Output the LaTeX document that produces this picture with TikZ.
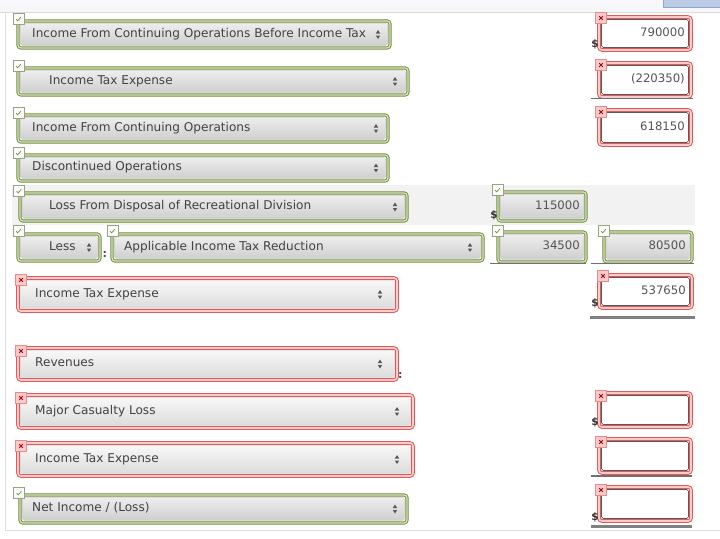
\documentclass[tikz,border=0pt]{standalone}
\usepackage{fontspec}
\setmainfont{DejaVu Sans}
\definecolor{fgreen}{HTML}{6E8B3D}
\definecolor{fgreenl}{HTML}{DCE6C0}
\definecolor{fred}{HTML}{E05A5A}
\definecolor{fredl}{HTML}{F9CACA}
\definecolor{txtc}{HTML}{424242}
\definecolor{numc}{HTML}{555555}
\definecolor{linec}{HTML}{DEDEDE}
\definecolor{ulc}{HTML}{707070}
\definecolor{btnc}{HTML}{BCCBE6}
\definecolor{btnd}{HTML}{8FA6D0}
\tikzset{
 frameg/.style={draw=fgreen, double=fgreenl, line width=0.95pt, double distance=1.3pt, rounded corners=3pt},
 framer/.style={draw=fred, double=fredl, line width=1pt, double distance=1.6pt, rounded corners=3pt},
 fieldg/.style={draw=black!20, line width=0.4pt, top color=black!7, bottom color=black!19, rounded corners=1.5pt},
 fieldr/.style={draw=black!15, line width=0.4pt, top color=black!3, bottom color=black!14, rounded corners=1.5pt},
 fieldw/.style={fill=white, rounded corners=1.5pt},
 seltext/.style={anchor=mid west, inner sep=0pt, text=txtc, font=\fontsize{12.1}{14}\selectfont},
 numtext/.style={anchor=mid east, inner sep=0pt, text=numc, font=\fontsize{11.7}{14}\selectfont},
 dollar/.style={inner sep=0pt, text=black!80, font=\fontsize{10.5}{12}\bfseries\selectfont},
 colon/.style={anchor=mid west, inner sep=0pt, text=black!70, font=\fontsize{11}{13}\bfseries\selectfont},
 arrowc/.style={fill=black!65},
 iconbox/.style={minimum size=11pt, inner sep=0pt, line width=0.6pt},
 icong/.style={iconbox, fill=white!90!fgreenl, draw=black!30!fgreenl},
 iconr/.style={iconbox, fill=fredl, draw=fred!70},
 ulsingle/.style={draw=ulc, line width=1.3pt},
 uldouble/.style={draw=black!50, line width=3pt},
}
% select box: name, x1, y1, x2, y2, text x, arrow x, text, kind
\newcommand\mkSel[9]{%
 \draw[frame#9] (#2,#3) rectangle (#4,#5);
 \draw[field#9] ({#2+2.6},{#3+2.6}) rectangle ({#4-2.6},{#5-2.6});
 \node[seltext] (#1) at (#6,{(#3+#5)/2}) {#8};
 \fill[arrowc] ({#7-2.2},{(#3+#5)/2-1}) -- ({#7+2.2},{(#3+#5)/2-1}) -- (#7,{(#3+#5)/2-4.5}) -- cycle;
 \fill[arrowc] ({#7-2.2},{(#3+#5)/2+1}) -- ({#7+2.2},{(#3+#5)/2+1}) -- (#7,{(#3+#5)/2+4.5}) -- cycle;
}
% amount box: name, x1, y1, x2, y2, text, kind, fill kind
\newcommand\mkAmt[8]{%
 \draw[frame#7] (#2,#3) rectangle (#4,#5);
 \draw[field#8] ({#2+2.6},{#3+2.6}) rectangle ({#4-2.6},{#5-2.6});
 \node[numtext] (#1) at ({#4-6},{(#3+#5)/2}) {#6};
}
% icons: name, centre x, centre y
\newcommand\mkOk[3]{%
 \node[icong] (#1) at (#2,#3) {};
 \draw[fgreen, line width=0.7pt] ([shift={(-2.4,0.2)}]#1.center) -- ([shift={(-0.8,1.8)}]#1.center) -- ([shift={(2.4,-1.8)}]#1.center);
}
\newcommand\mkBad[3]{%
 \node[iconr] (#1) at (#2,#3) {};
 \draw[red!70!black, line width=0.8pt] ([shift={(-1.8,-1.8)}]#1.center) -- ([shift={(1.8,1.8)}]#1.center)
   ([shift={(-1.8,1.8)}]#1.center) -- ([shift={(1.8,-1.8)}]#1.center);
}
\begin{document}
\begin{tikzpicture}[x=1pt,y=-1pt]
\useasboundingbox (0,0) rectangle (720,538);
\fill[white] (0,0) rectangle (720,538);
% top bar
\shade[top color=black!12!blue!3, bottom color=black!3] (0,0) rectangle (720,12);
\draw[black!15] (0,12) -- (720,12);
\draw[fill=btnc, draw=btnd] (663,-2) rectangle (722,7);
% frame lines
\draw[linec] (5,12) -- (5,530);
\draw[linec] (5,530) -- (720,530);
% grey band
\fill[black!5] (12,185) rectangle (695,225);

% row 1
\mkSel{r1}{18}{21}{390}{48}{32}{378}{Income From Continuing Operations Before Income Tax}{g}
\mkOk{i1}{18.5}{19}
\mkAmt{a1}{599}{17}{691}{50}{790000}{r}{w}
\mkBad{b1}{601}{18}
\node[dollar] (d1) at (595,44) {\$};

% row 2
\mkSel{r2}{18}{68}{408}{95}{49}{395}{Income Tax Expense}{g}
\mkOk{i2}{18.5}{66}
\mkAmt{a2}{599}{63}{691}{97}{(220350)}{r}{w}
\mkBad{b2}{601}{65}
\draw[ulsingle] (591,98.5) -- (693,98.5);

% row 3
\mkSel{r3}{18}{115}{388}{142}{32}{376}{Income From Continuing Operations}{g}
\mkOk{i3}{18.5}{113}
\mkAmt{a3}{599}{110}{691}{145}{618150}{r}{w}
\mkBad{b3}{601}{112}

% row 4
\mkSel{r4}{18}{155}{388}{181}{32}{376}{Discontinued Operations}{g}
\mkOk{i4}{18.5}{153}

% row 5
\mkSel{r5}{20}{193}{407}{221}{49}{395}{Loss From Disposal of Recreational Division}{g}
\mkOk{i5}{19}{191}
\mkAmt{a5}{498}{192}{586}{221}{115000}{g}{g}
\mkOk{i5b}{497.5}{190}
\node[dollar] (d5) at (494,215) {\$};

% row 6
\mkSel{r6a}{18}{234}{100}{261}{49}{89}{Less}{g}
\mkOk{i6a}{18.5}{231}
\node[colon] (c6) at (102.5,255) {:};
\mkSel{r6b}{112}{234}{483}{261}{124}{470}{Applicable Income Tax Reduction}{g}
\mkOk{i6b}{112.5}{231}
\mkAmt{a6a}{498}{232}{586}{262}{34500}{g}{g}
\mkOk{i6c}{497.5}{231}
\draw[ulsingle] (490,263.5) -- (586,263.5);
\mkAmt{a6b}{604}{232}{692}{262}{80500}{g}{g}
\mkOk{i6d}{603.5}{231}
\draw[ulsingle] (591,263.5) -- (694,263.5);

% row 7
\mkSel{r7}{18}{278}{397}{311}{35}{380}{Income Tax Expense}{r}
\mkBad{b7}{21}{280}
\mkAmt{a7}{599}{275}{692}{308}{537650}{r}{w}
\mkBad{b7b}{603}{276}
\node[dollar] (d7) at (595,303) {\$};
\draw[uldouble] (590,317) -- (695,317);

% row 8
\mkSel{r8}{18}{348}{397}{380}{35}{380}{Revenues}{r}
\mkBad{b8}{21}{351}
\node[colon] (c8) at (398,376) {:};

% row 9
\mkSel{r9}{18}{395}{413}{428}{35}{397}{Major Casualty Loss}{r}
\mkBad{b9}{21}{398}
\mkAmt{a9}{599}{393}{691}{427}{}{r}{w}
\mkBad{b9b}{601}{396}
\node[dollar] (d9) at (595,422) {\$};

% row 10
\mkSel{r10}{18}{443}{413}{476}{35}{397}{Income Tax Expense}{r}
\mkBad{b10}{21}{446}
\mkAmt{a10}{599}{439}{691}{473}{}{r}{w}
\mkBad{b10b}{601}{442}
\draw[ulsingle] (591,476) -- (692,476);

% row 11
\mkSel{r11}{20}{495}{407}{523}{32}{395}{Net Income / (Loss)}{g}
\mkOk{i11}{19}{493}
\mkAmt{a11}{599}{487}{691}{521}{}{r}{w}
\mkBad{b11b}{601}{490}
\node[dollar] (d11) at (595,517) {\$};
\draw[uldouble] (591,526.5) -- (692,526.5);
\end{tikzpicture}
\end{document}
